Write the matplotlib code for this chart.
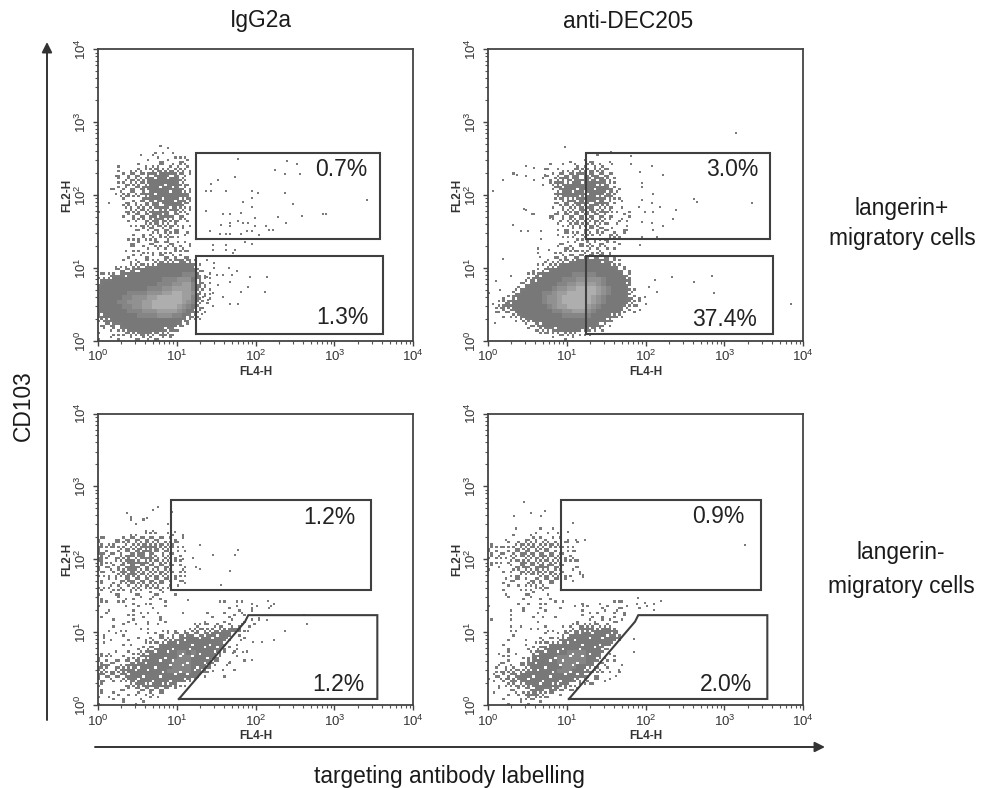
import numpy as np
import matplotlib
matplotlib.use('Agg')
import matplotlib.pyplot as plt
from matplotlib.patches import FancyArrowPatch

plt.rcParams['font.family'] = ['Liberation Sans', 'DejaVu Sans']
plt.rcParams['mathtext.default'] = 'regular'

W, H = 988, 788

# Event density, bins of 1/16 decade, top row first, last row is 10^0.
# 0 empty, 1-3 stippled, 4 solid, 5-8 brighter core
grid_a = """
0000000000001010
0000000000010101
0000000010011001110
0000000000101110111
00001000110121112110
00001011211232222210
00011122213344332210
00001122224444443200
00001222224444443210
00111212234444443210
00011122133444444320
00001211133444444330
00100112122344444320
00000221222333343210
10000122222333232210
00000112222433322110
00000012122333222110
00000011122232221110
00000001112212211100
00000001011121211110
00000011121211211
00000011101211211110
00000011011121121110
00000101111111111110
00000011111112121110
00000111111222223331
00011112223344444443100
00012223344444444444210
11233344444444444555311
23344444444445556664311
34444444444455566775321
44444444445556677775321
44444455556667788776311
44444556667788888775311
44445566677888888765211
44444556677888887654210
44444455566677776543210
34444444555566655432100
23344444444444444321100
12233444444444443110
01112344444443331
10011222333223210
101010111121111
""".split()

grid_b = """
000000000000000000000010
000000000000000010011100100
000000000000100101111211010
000000000001101112222222100
0000010100011122233323222100
000000000001112333333333210
00000000000012333443443321
00000000000002344434444432100
00000000000001344443444432100
00000000000001233333443332100
00000000000001123333333321010
00000000000001122232332221010
00000001000000122223232321101
00000000000012122222222211011
00000000000001112222222210111
00000000000000112222222110101
00000000000000011111212211011
00000000000000111212212112110
00000000000000011112111121100
00000000000000111111211111100
00000000001000112111212111
00000000001001111112112110
00000000000001121222222221
00000000000111222344444332100
00000000001122344444444443210
00000000011234444444444444321
00000000123444444555554444432
00000001234444455566666544443
00000012344444556677776544443
000001234444456677888876544431
000002344445567788888876544431
0001134444456678888887654444321
0012344444456678888887654444321
0123344444445677888876544443211
0112234444444556677765444442110
00011234444444455555544443210
00000112344444444444444431
00000001123444444444443210
00000000112233444443331100
00000000001111222211100
00000000000001010100
""".split()

grid_c = """
000000100100
000000010000001
000000000101
000000110111001100
210112222222211101
201212122322222210
311122223333222111
321121223432122111
311122323332122110
311112433322222110
211122432222222111
211123332222222112
111122332222221111
101112322222222111
101121222222211011
211121122111211001
101110111011110100
100011011011100000
1100110101100100000000001100110100010
1000010010010100000000000010100110100
0110000110101000010000100100110100
1000001101001000000000010011010
0001001100101100000001000101010110
0001010100101000000121112111111100
0010110010100111011222222334410
0101010000111112223222344440100
0110001011111222344444444420010
0100011001112344444444444300100
0000000011223444444444444210100
1011001122344444554544443101001
2110011123444444555444442000100
2112112233444445555444421010010
3311223444444445555444310010
2212234444444455555443100001
3222233444444444444431000100
2111123344444444443100
2000012233344433110000
1000111122222211000
1001101111111100000
1011010010101000000
1000010101
""".split()

grid_d = """
0000010000100100
00000100110010100
000100011211011010010
1000112222122211101
2111122222222111110
2111122322222211110
2121121222232221110
1110212322222221111
1010112322333221001
1001112222322211011
0000112111222221101
0001121112212211010
0001101122111100000
0001001111121000100
0001000111001
0000100110101
0000001010110101000100100111001001
1000000100100010010010011011101010
0000100100110000000110110111
0000100001010100000101010101
1000100000100000001011011111
0000101000010001112222212
0000110010101101122333444310
0000010000010012233444443320
000010010011112344444444443
00010001011123344444444441
00001000112344444444444210
00101100123444445555444110
00011001144444555555443101
00111011344444555555432111
01111112344444455544321110
011222223444445554433221101
02112334444444444433211
111223344444444443211111
00112222344444332111110
00101111244333221110
01001112342211100
00010011221110000
00001010101
""".split()

# Lone events outside the clouds, as (log10 FL4, log10 FL2)
dots_a = [(1.78,2.50),(2.40,2.47),(2.53,2.43),(2.25,2.34),(2.57,2.29),(2.37,2.29),(1.74,2.25),(1.52,2.21),
          (1.43,2.15),(1.37,2.06),(1.43,2.06),(1.62,2.06),(1.96,2.06),(2.03,2.03),(2.37,2.03),(1.95,1.96),
          (1.84,1.90),(3.41,1.93),(2.47,1.87),(1.96,1.84),(1.37,1.78),(1.59,1.74),(1.68,1.74),(1.82,1.75),
          (2.86,1.74),(2.89,1.74),(2.28,1.70),(2.59,1.71),(1.78,1.64),(1.84,1.62),(1.68,1.62),(1.91,1.61),
          (1.99,1.68),(2.39,1.62),(1.56,1.59),(1.68,1.57),(1.99,1.57),(2.13,1.57),(2.17,1.52),(2.22,1.52),
          (1.42,1.50),(1.55,1.47),(1.63,1.47),(1.68,1.47),(1.82,1.47),(1.89,1.50),(1.95,1.50),(2.05,1.45),
          (1.87,1.36),(1.96,1.33),(1.46,1.32),(1.46,1.25),(1.63,1.32),(1.63,1.25),(1.74,1.25),(1.53,1.16),
          (1.59,1.16),(1.72,1.20),(1.81,1.16),(1.30,1.16),(1.38,1.11),(1.47,1.07),(1.47,1.00),(1.66,1.00),
          (1.76,.95),(1.51,.90),(1.59,.90),(1.70,.90),(1.93,.87),(2.15,.87),(1.68,.81),(1.53,.76),(1.38,.88),
          (1.34,.79),(1.91,.74),(1.82,.67),(2.12,.67),(1.46,.65),(1.59,.60),(1.68,.51),(1.78,.50),(1.40,.56),
          (1.46,.47),(1.32,.37),(1.34,.60)]
dots_b = [(3.15,2.85),(.98,2.66),(1.56,2.59),(1.81,2.53),(1.81,2.43),(2.08,2.40),(2.22,2.28),(1.93,2.32),
          (1.96,2.11),(2.09,2.02),(1.95,2.16),(2.62,1.94),(2.65,1.90),(3.35,1.89),(1.96,1.93),(2.08,1.89),
          (2.18,1.83),(1.92,1.83),(1.99,1.77),(2.09,1.77),(2.39,1.80),(2.35,1.67),(1.96,1.63),(2.08,1.62),
          (2.22,1.57),(2.10,1.52),(2.14,1.43),(1.95,1.43),(1.93,1.31),(2.12,.83),(2.34,.87),(2.62,.80),
          (2.84,.89),(2.87,.66),(3.84,.50),(2.05,.74),(2.15,.67),(1.99,.60),(2.01,.51),(1.93,.42),(.20,2.21),
          (.07,2.05),(.37,2.28),(.49,2.40),(.59,2.37),(.59,2.21),(.73,2.27),(.70,2.14),(.46,1.81),(.56,1.74),
          (.59,1.74),(.32,1.59),(.42,1.50),(.51,1.50),(.68,1.50),(.68,1.40),(.89,1.52),(.79,1.68),(.78,1.24),
          (.66,1.15),(.20,1.12),(.30,.89),(.11,.82),(.15,.70),(.02,.66),(.07,.50),(.09,.24),(.11,.40)]
dots_c = [(1.30,2.19),(1.46,2.06),(1.74,2.06),(1.78,2.13),(1.21,2.02),(1.08,2.01),(1.24,1.90),(1.30,1.87),
          (1.68,1.84),(1.56,1.65),(1.08,2.33),(.98,2.38),(.94,2.65),(1.95,.62),(1.97,.87),(2.08,.87),(2.24,.89),
          (2.37,1.01),(2.62,1.24),(2.65,1.11),(2.05,1.19),(2.14,1.17),(1.84,.73),(1.72,.71),(1.68,.59),(1.59,.48),
          (1.46,.46),(1.82,.89),(1.91,1.01),(2.16,1.43),(2.20,1.36),(1.15,1.44),(.37,2.63),(.42,2.58),(.70,2.67),
          (.77,2.72),(.62,2.56)]
dots_d = [(.46,2.79),(.55,2.63),(.72,2.66),(.33,2.59),(.68,2.59),(3.26,2.19),(1.91,1.47),(2.20,1.43),(2.11,1.31),
          (1.99,1.40),(1.21,1.36),(1.21,1.76),(1.12,2.26),(1.08,2.11),(1.12,1.90),(1.21,1.78),(1.86,.90),(1.86,.73),
          (1.70,.55),(1.66,.48),(1.62,.40),(1.55,.36),(1.40,.36),(1.08,2.50),(1.02,2.38)]

titles = ['IgG2a', 'anti-DEC205']
pct_upper = ['0.7%', '3.0%', '1.2%', '0.9%']
pct_lower = ['1.3%', '37.4%', '1.2%', '2.0%']

# Gates in fluorescence units
top_gate_x = [17.5, 3780, 3780, 17.5, 17.5]
top_gate_y = [24.7, 24.7, 373, 373, 24.7]
low_gate_x = [17.5, 4170, 4170, 17.5, 17.5]
low_gate_y = [1.22, 1.22, 14.7, 14.7, 1.22]
neg_top_x = [8.5, 2890, 2890, 8.5, 8.5]
neg_top_y = [37.4, 37.4, 643, 643, 37.4]
neg_low_x = [10.7, 3500, 3500, 81, 73.6, 10.7]
neg_low_y = [1.21, 1.21, 17.1, 17.1, 13.9, 1.21]

tick_vals = [1, 10, 100, 1000, 10000]
tick_text = ['$10^{0}$', '$10^{1}$', '$10^{2}$', '$10^{3}$', '$10^{4}$']
tones = {1: .48, 2: .48, 3: .48, 4: .47, 5: .52, 6: .57, 7: .62, 8: .68}
orders = [(0, 3, 1, 2), (1, 2, 3, 0), (3, 0, 2, 1), (2, 1, 0, 3)]


def stipple(rows, holes):
    # one grid cell becomes 2x2 dots, the number shown follows the density digit
    fine = np.full((90, 128), np.nan)
    for i, row in enumerate(rows):
        r = len(rows) - 1 - i
        for c, ch in enumerate(row):
            n = int(ch)
            if n == 0:
                continue
            order = orders[(r * 7 + c * 3 + (r * c) % 3) % 4]
            shown = min(n, 4)
            # the upper population and the lower panels are never fully solid
            if n >= 4 and (holes or r >= 18) and (r * 5 + c) % 3 == 0:
                shown = 3
            for k in order[:shown]:
                fine[2 * r + k // 2, 2 * c + k % 2] = tones[n]
    return fine


def draw_panel(ax, rows, dots, gates, upper, lower, pos_up, pos_low, holes=False):
    edges = 10 ** (np.arange(129) / 32)
    yedges = 10 ** (np.arange(91) / 32)
    ax.pcolormesh(edges, yedges, np.ma.masked_invalid(stipple(rows, holes)), cmap='gray', vmin=0, vmax=1,
                  shading='flat', antialiased=False, linewidth=0)
    xs, ys = np.array(dots).T
    ax.scatter(10 ** xs, 10 ** ys, marker='s', s=3.6, color='#7a7a7a', linewidths=0, zorder=2)
    for gx, gy in gates:
        ax.plot(gx, gy, color='#3f3f3f', lw=1.5, zorder=3, solid_joinstyle='miter')
    ax.set_xscale('log')
    ax.set_yscale('log')
    ax.set_xlim(1, 10000)
    ax.set_ylim(1, 10000)
    ax.set_xticks(tick_vals)
    ax.set_xticklabels(tick_text, fontsize=9.5, color='#333333')
    ax.set_yticks(tick_vals)
    ax.set_yticklabels(tick_text, fontsize=9.5, color='#333333', rotation=90, va='center')
    ax.tick_params(which='major', length=3.5, width=1.0, color='#444444', pad=2.5)
    ax.tick_params(which='minor', length=2, width=0.8, color='#555555')
    ax.set_xlabel('FL4-H', fontsize=8.5, fontweight='bold', labelpad=1, color='#333333')
    ax.set_ylabel('FL2-H', fontsize=8.5, fontweight='bold', labelpad=1, color='#333333')
    for s in ax.spines.values():
        s.set_linewidth(1.3)
        s.set_color('#444444')
    ax.text(pos_up[0], pos_up[1], upper, transform=ax.transAxes, fontsize=16.5, ha='center', va='center', color='#222222')
    ax.text(pos_low[0], pos_low[1], lower, transform=ax.transAxes, fontsize=16.5, ha='center', va='center', color='#222222')


def add_axes_px(x0, y0, x1, y1):
    return fig.add_axes([x0 / W, 1 - y1 / H, (x1 - x0) / W, (y1 - y0) / H])


def label(x, y, s, **kw):
    fig.text(x / W, 1 - y / H, s, fontsize=16.4, ha='center', va='center', color='#1a1a1a', **kw)


fig = plt.figure(figsize=(W / 100, H / 100), dpi=100)

pos_gates = [(top_gate_x, top_gate_y), (low_gate_x, low_gate_y)]
neg_gates = [(neg_top_x, neg_top_y), (neg_low_x, neg_low_y)]

draw_panel(add_axes_px(97.7, 49.3, 413.3, 340.7), grid_a, dots_a, pos_gates, pct_upper[0], pct_lower[0], (.771, .586), (.777, .078))
draw_panel(add_axes_px(487.7, 49.3, 803.3, 340.7), grid_b, dots_b, pos_gates, pct_upper[1], pct_lower[1], (.774, .586), (.752, .073))
draw_panel(add_axes_px(97.7, 413.5, 413.3, 705), grid_c, dots_c, neg_gates, pct_upper[2], pct_lower[2], (.734, .643), (.762, .072), holes=True)
draw_panel(add_axes_px(487.7, 413.5, 803.3, 705), grid_d, dots_d, neg_gates, pct_upper[3], pct_lower[3], (.730, .646), (.755, .072), holes=True)

label(261, 21, titles[0])
label(628, 21, titles[1])
label(902, 208, 'langerin+')
label(902, 238, 'migratory cells')
label(901, 553, 'langerin-')
label(901, 586, 'migratory cells')
label(449, 776, 'targeting antibody labelling')
label(23.5, 405.5, 'CD103', rotation=90)

for a, b in [((47, 720), (47, 42)), ((95, 747), (825, 747))]:
    fig.add_artist(FancyArrowPatch((a[0] / W, 1 - a[1] / H), (b[0] / W, 1 - b[1] / H), transform=fig.transFigure,
                                   arrowstyle='-|>', mutation_scale=15, lw=1.4, color='#333333',
                                   shrinkA=0, shrinkB=0))

fig.savefig('out.png', dpi=100)
